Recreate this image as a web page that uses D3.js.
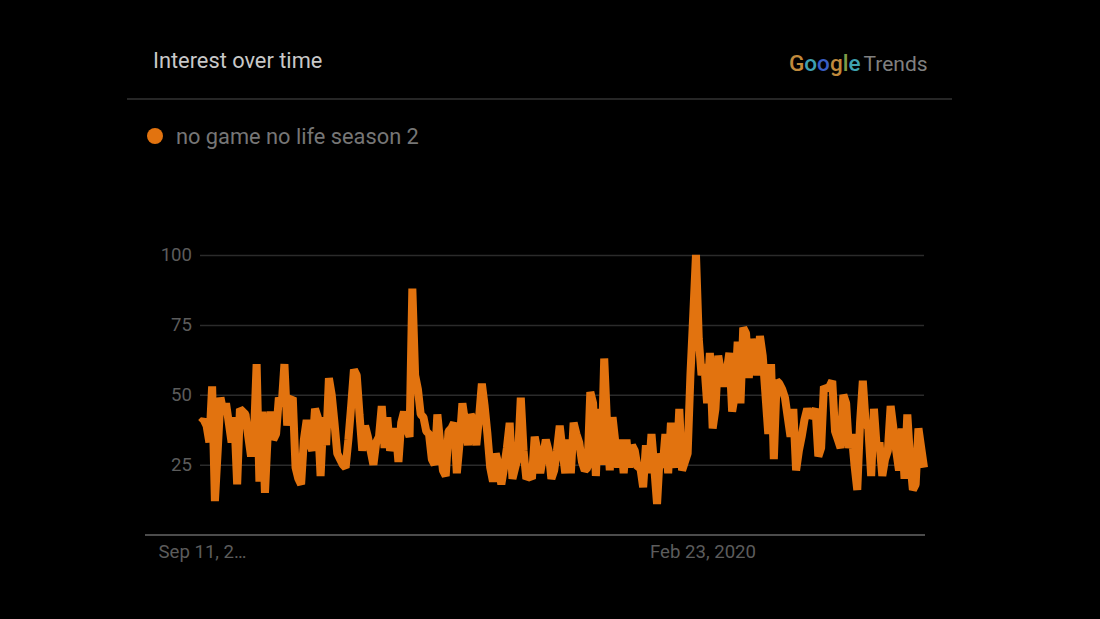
<!DOCTYPE html>
<html>
<head>
<meta charset="utf-8">
<script src="https://d3js.org/d3.v7.min.js"></script>
<style>
  html, body { margin: 0; padding: 0; background: #000; }
  svg { display: block; }
  text { font-family: Roboto, sans-serif; }
</style>
</head>
<body>
<svg id="chart" width="1100" height="619"></svg>
<script>
var seriesName = "no game no life season 2"
var firstWeek = "2016-09-11"
// weekly values, 10 per row
var interest = [
  40, 41, 39, 33, 53, 12, 30, 49, 44, 47,
  40, 33, 42, 18, 45, 44, 43, 35, 28, 34,
  61, 19, 44, 15, 36, 44, 34, 36, 49, 46,
  61, 39, 48, 49, 24, 20, 18, 34, 41, 33,
  30, 45, 42, 21, 42, 32, 56, 50, 40, 29,
  27, 25, 24, 34, 46, 59, 57, 43, 30, 39,
  35, 30, 25, 33, 35, 46, 31, 42, 30, 34,
  38, 26, 40, 44, 38, 35, 88, 57, 52, 43,
  42, 37, 36, 27, 25, 43, 33, 23, 21, 37,
  38, 40, 22, 33, 47, 40, 32, 43, 41, 32,
  42, 54, 46, 36, 24, 19, 29, 25, 18, 24,
  31, 40, 20, 24, 28, 49, 30, 20, 21, 20,
  35, 30, 22, 28, 34, 30, 20, 23, 30, 39,
  30, 22, 34, 22, 40, 36, 33, 26, 23, 24,
  51, 47, 21, 45, 25, 63, 40, 23, 42, 33,
  24, 34, 22, 34, 24, 32, 30, 24, 24, 17,
  32, 22, 36, 24, 11, 29, 24, 36, 22, 40,
  30, 24, 45, 23, 26, 29, 57, 78, 100, 70,
  57, 61, 47, 65, 38, 45, 64, 58, 53, 58,
  65, 44, 50, 69, 47, 74, 72, 56, 70, 65,
  57, 71, 64, 50, 36, 61, 27, 55, 54, 52,
  49, 42, 35, 45, 23, 30, 35, 41, 45, 42,
  43, 45, 28, 31, 53, 52, 53, 55, 37, 34,
  31, 50, 47, 31, 36, 25, 16, 40, 55, 40,
  38, 21, 45, 31, 33, 21, 27, 30, 46, 38,
  30, 23, 38, 20, 43, 27, 16, 18, 38, 31,
  24
]
var yTicks = [25, 50, 75, 100]
var xTickDates = ["2016-09-11", "2020-02-23"]
var xTickLabels = ["Sep 11, 2…", "Feb 23, 2020"]
var googleLetters = ["G", "o", "o", "g", "l", "e"]
var googleColors = ["#c08a3c", "#3f9fb2", "#3a5ec4", "#c08a3c", "#7f9c48", "#3fa3b0"]

var svg = d3.select("#chart")
var parseDay = d3.utcParse("%Y-%m-%d")
var start = parseDay(firstWeek)
var dates = interest.map(function(d, i){ return d3.utcWeek.offset(start, i) })

var x = d3.scaleUtc().domain(d3.extent(dates)).range([201, 924])
var y = d3.scaleLinear().domain([0, 100]).range([534.7, 255])

//---------------------------------------------Header------------------------------------------------
svg.append("text").attr("x", 153).attr("y", 68)
  .attr("font-size", 21.8).attr("fill", "#c8c8c8").text("Interest over time")

var logo = svg.append("text").attr("x", 789).attr("y", 71).attr("font-size", 22.5).attr("font-weight", 500)
logo.selectAll("tspan").data(googleLetters).enter().append("tspan")
  .attr("fill", function(d, i){ return googleColors[i] })
  .text(function(d){ return d })
logo.append("tspan").attr("dx", 3).attr("fill", "#808080").attr("font-weight", 400).attr("font-size", 21).text("Trends")

svg.append("line").attr("x1", 127).attr("x2", 952).attr("y1", 99).attr("y2", 99)
  .attr("stroke", "#333").attr("stroke-width", 1.5)

//---------------------------------------------Legend------------------------------------------------
svg.append("circle").attr("cx", 155).attr("cy", 136).attr("r", 8).attr("fill", "#e2730f")
svg.append("text").attr("x", 176).attr("y", 144)
  .attr("font-size", 21.8).attr("fill", "#767676").text(seriesName)

//---------------------------------------------Axes------------------------------------------------
var yAxis = d3.axisLeft(y).tickValues(yTicks).tickSize(-(924 - 200)).tickPadding(8)
var gy = svg.append("g").attr("transform", "translate(200,0)").call(yAxis)
gy.select(".domain").remove()
gy.selectAll(".tick line").attr("stroke", "#2b2b2b").attr("stroke-width", 1.5)
gy.selectAll(".tick text").attr("font-size", 18.6).attr("fill", "#5c5c5c")
  .attr("font-family", "Roboto, sans-serif")

svg.append("line").attr("x1", 145).attr("x2", 925).attr("y1", 535).attr("y2", 535)
  .attr("stroke", "#666").attr("stroke-width", 1.5)

svg.selectAll(".x-label").data(xTickDates).enter().append("text")
  .attr("class", "x-label")
  .attr("x", function(d){ return x(parseDay(d)) + 1.5 })
  .attr("y", 558).attr("text-anchor", "middle")
  .attr("font-size", 18.6).attr("fill", "#5c5c5c")
  .text(function(d, i){ return xTickLabels[i] })

//---------------------------------------------Line------------------------------------------------
var line = d3.line()
  .x(function(d, i){ return x(dates[i]) })
  .y(function(d){ return y(d) })

svg.append("path").datum(interest)
  .attr("fill", "none")
  .attr("stroke", "#e2730f")
  .attr("stroke-width", 8)
  .attr("stroke-linejoin", "bevel")
  .attr("d", line)

if (interest.length != 261) console.error("expected 261 weeks, got " + interest.length)
</script>
</body>
</html>
